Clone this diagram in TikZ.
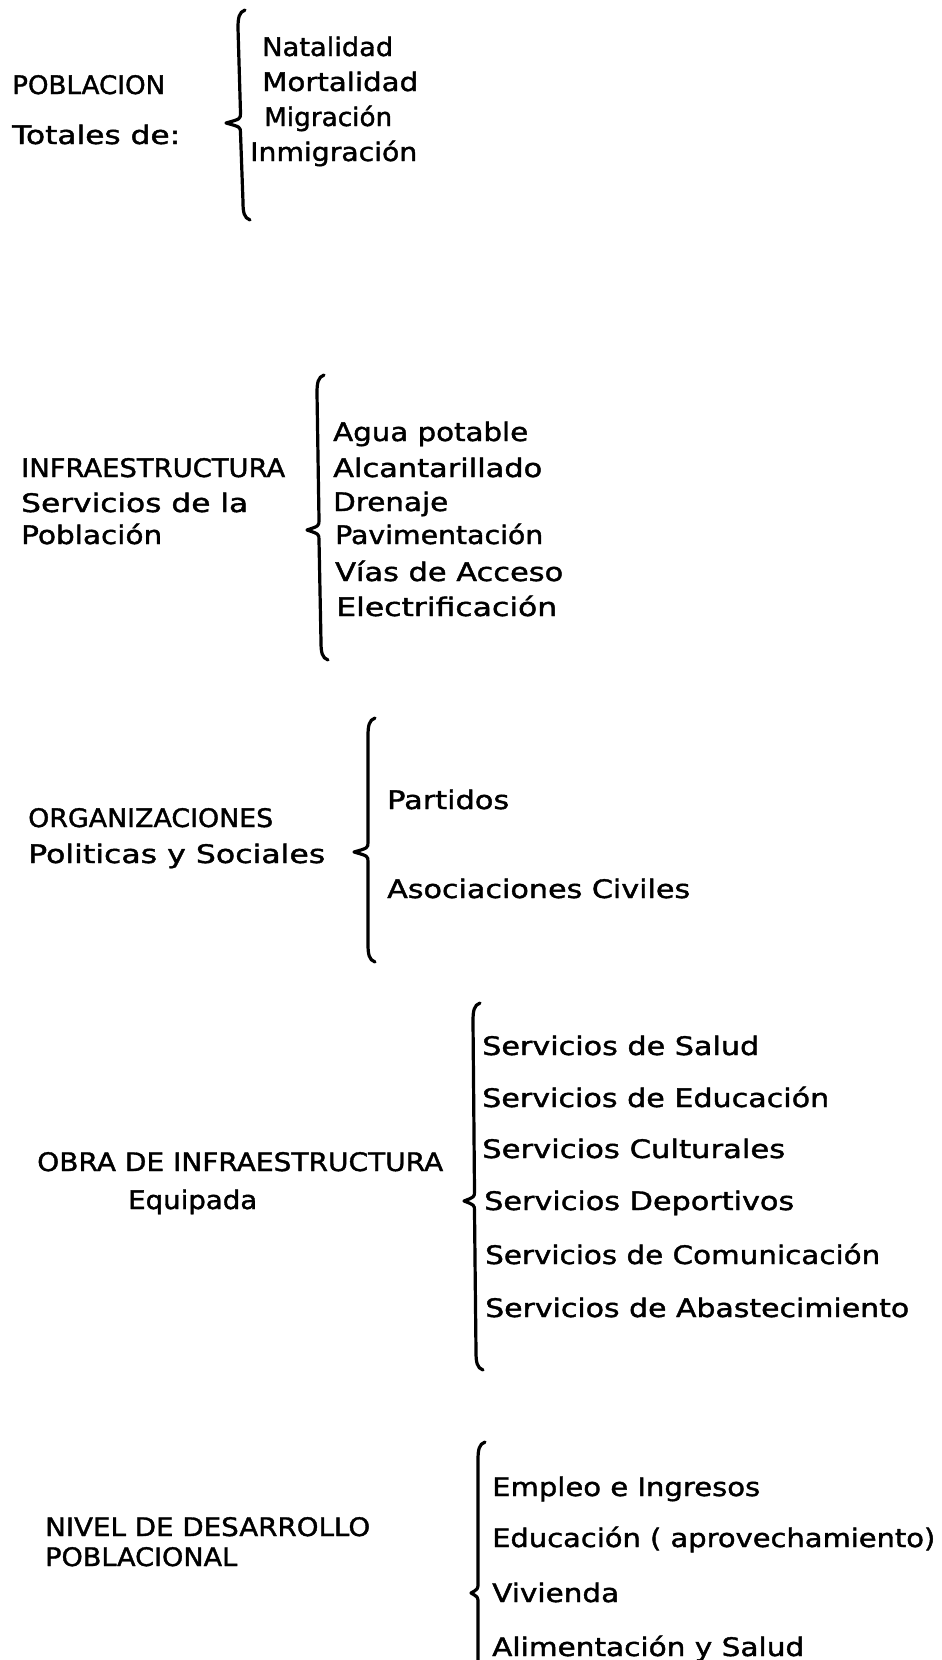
\documentclass[tikz,border=0pt]{standalone}
\usepackage{fontspec}
\setmainfont{DejaVu Sans}
\newfontfamily\dotfont{DejaVu Sans}[FakeBold=1.4]
\usepackage{graphicx}
\newcommand{\fitw}[2]{\resizebox{#1pt}{\height}{#2}}
% brace: xtop, ytop, tipx, tipy, xbot, ybot
\newcommand{\curlybr}[6]{%
  \draw[bracestyle] (#1+7,#2) .. controls (#1+1,#2+2) and (#1,#2+8) .. (#1,#2+18)
    -- ({(#1+#5)/2},#4-10) .. controls ({(#1+#5)/2},#4-4) .. (#3,#4)
    .. controls ({(#1+#5)/2},#4+4) .. ({(#1+#5)/2},#4+10)
    -- (#5,#6-18) .. controls (#5,#6-8) and (#5+1,#6-2) .. (#5+7,#6);}
\begin{document}
\begin{tikzpicture}[x=1pt,y=-1pt,
  lbl/.style={inner sep=0pt, anchor=base west, font=\dotfont\fontsize{25.5}{30}\selectfont},
  bracestyle/.style={line width=3.2pt, line cap=round, line join=round}]
\useasboundingbox (0,0) rectangle (942,1660);

% Block 1
\node[lbl] (pob) at (12,94) {\fitw{153}{POBLACION}};
\node[lbl] (tot) at (12,144) {\fitw{168}{Totales de:}};
\node[lbl] (nat) at (262,56) {\fitw{131}{Natalidad}};
\node[lbl] (mor) at (262,91) {\fitw{156}{Mortalidad}};
\node[lbl] (mig) at (264,126) {\fitw{128}{Migración}};
\node[lbl] (inm) at (250,161) {\fitw{167}{Inmigración}};
\curlybr{238}{10}{226}{123}{243}{220}

% Block 2
\node[lbl] (inf) at (21,477) {\fitw{264}{INFRAESTRUCTURA}};
\node[lbl] (serv) at (21,512) {\fitw{227}{Servicios de la}};
\node[lbl] (pobl) at (21,544) {\fitw{141}{Población}};
\node[lbl] (agua) at (333,441) {\fitw{195}{Agua potable}};
\node[lbl] (alc) at (333,477) {\fitw{209}{Alcantarillado}};
\node[lbl] (dre) at (333,511) {\fitw{115}{Drenaje}};
\node[lbl] (pav) at (335,544) {\fitw{208}{Pavimentación}};
\node[lbl] (vias) at (335,581) {\fitw{228}{Vías de Acceso}};
\node[lbl] (ele) at (336,616) {\fitw{221}{Electrificación}};
\curlybr{317}{375}{307}{530}{321}{660}

% Block 3
\node[lbl] (org) at (28,827) {\fitw{245}{ORGANIZACIONES}};
\node[lbl] (pol) at (28,863) {\fitw{297}{Politicas y Sociales}};
\node[lbl] (par) at (387,809) {\fitw{122}{Partidos}};
\node[lbl] (aso) at (387,898) {\fitw{303}{Asociaciones Civiles}};
\curlybr{368}{718}{354}{852}{368}{962}

% Block 4
\node[lbl] (obra) at (37,1171) {\fitw{406}{OBRA DE INFRAESTRUCTURA}};
\node[lbl] (equ) at (128,1209) {\fitw{129}{Equipada}};
\node[lbl] (s1) at (482,1055) {\fitw{277}{Servicios de Salud}};
\node[lbl] (s2) at (482,1107) {\fitw{347}{Servicios de Educación}};
\node[lbl] (s3) at (482,1158) {\fitw{303}{Servicios Culturales}};
\node[lbl] (s4) at (484,1210) {\fitw{310}{Servicios Deportivos}};
\node[lbl] (s5) at (485,1264) {\fitw{395}{Servicios de Comunicación}};
\node[lbl] (s6) at (485,1317) {\fitw{424}{Servicios de Abastecimiento}};
\curlybr{473}{1003}{464}{1201}{476}{1370}

% Block 5
\node[lbl] (niv) at (45,1536) {\fitw{325}{NIVEL DE DESARROLLO}};
\node[lbl] (pobn) at (45,1566) {\fitw{192}{POBLACIONAL}};
\node[lbl] (emp) at (492,1496) {\fitw{268}{Empleo e Ingresos}};
\node[lbl] (edu) at (492,1547) {\fitw{443}{Educación ( aprovechamiento)}};
\node[lbl] (viv) at (492,1602) {\fitw{127}{Vivienda}};
\node[lbl] (ali) at (492,1656) {\fitw{312}{Alimentación y Salud}};
\draw[bracestyle] (485,1442) .. controls (479,1444) and (478,1450) .. (478,1460)
  -- (478,1583) .. controls (478,1589) .. (471,1593) .. controls (478,1597) .. (478,1603)
  -- (478,1662);
\end{tikzpicture}
\end{document}
